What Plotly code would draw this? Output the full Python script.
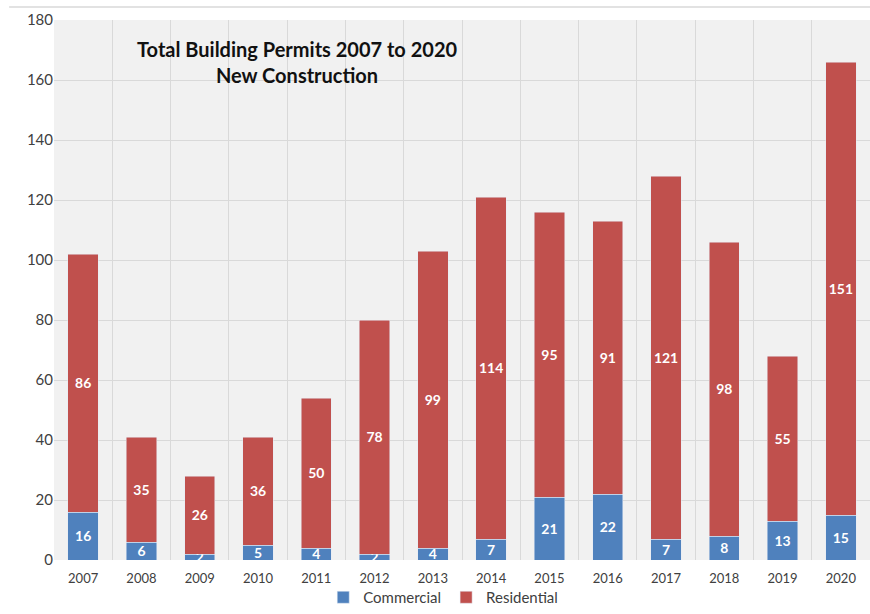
import plotly.graph_objects as go

years = [str(y) for y in range(2007, 2021)]
commercial = [16, 6, 2, 5, 4, 2, 4, 7, 21, 22, 7, 8, 13, 15]
residential = [86, 35, 26, 36, 50, 78, 99, 114, 95, 91, 121, 98, 55, 151]
y_ticks = list(range(0, 181, 20))

BLUE = "#4f81bd"
RED = "#c0504d"
FONT = "Lato, 'Open Sans', sans-serif"

fig = go.Figure()
fig.add_trace(go.Bar(
    x=years, y=commercial, name="Commercial", marker_color=BLUE,
    text=commercial, textposition="inside", insidetextanchor="middle", textangle=0,
    textfont=dict(color="white", size=14, family=FONT, weight="bold"),
    cliponaxis=True,
))
fig.add_trace(go.Bar(
    x=years, y=residential, name="Residential", marker_color=RED,
    text=residential, textposition="inside", insidetextanchor="middle", textangle=0,
    textfont=dict(color="white", size=14, family=FONT, weight="bold"),
))

fig.update_layout(
    width=870, height=614,
    barmode="stack", bargap=0.48,
    margin=dict(l=54, r=0, t=20, b=54, autoexpand=False),
    paper_bgcolor="white", plot_bgcolor="#f1f1f1",
    font=dict(family=FONT, color="#404040"),
    uniformtext=dict(minsize=13, mode="show"),
    legend=dict(orientation="h", x=0.477, xanchor="center", yref="container", y=-0.004, yanchor="bottom",
                bgcolor="rgba(0,0,0,0)", itemwidth=30,
                font=dict(size=15, color="#404040"), traceorder="normal"),
    xaxis=dict(type="category", tickson="boundaries", showgrid=True, gridcolor="#d9d9d9",
               gridwidth=1, ticks="", tickfont=dict(size=13), showline=False,
               ticklabelstandoff=9),
    yaxis=dict(range=[0, 180], tickvals=y_ticks, showgrid=True, gridcolor="#d9d9d9",
               tickfont=dict(size=15), ticks="", zeroline=False, showline=False),
    annotations=[dict(
        text="<b>Total Building Permits 2007 to 2020<br>New Construction</b>",
        xref="paper", yref="paper", x=0.298, y=0.973, xanchor="center", yanchor="top",
        showarrow=False, font=dict(size=20, color="#111111", family=FONT), align="center",
    )],
    shapes=[dict(type="line", xref="paper", yref="paper", x0=-0.055, x1=1.0,
                 y0=1.024, y1=1.024, line=dict(color="#d9d9d9", width=1.5))],
)

fig.write_html("out.html")
